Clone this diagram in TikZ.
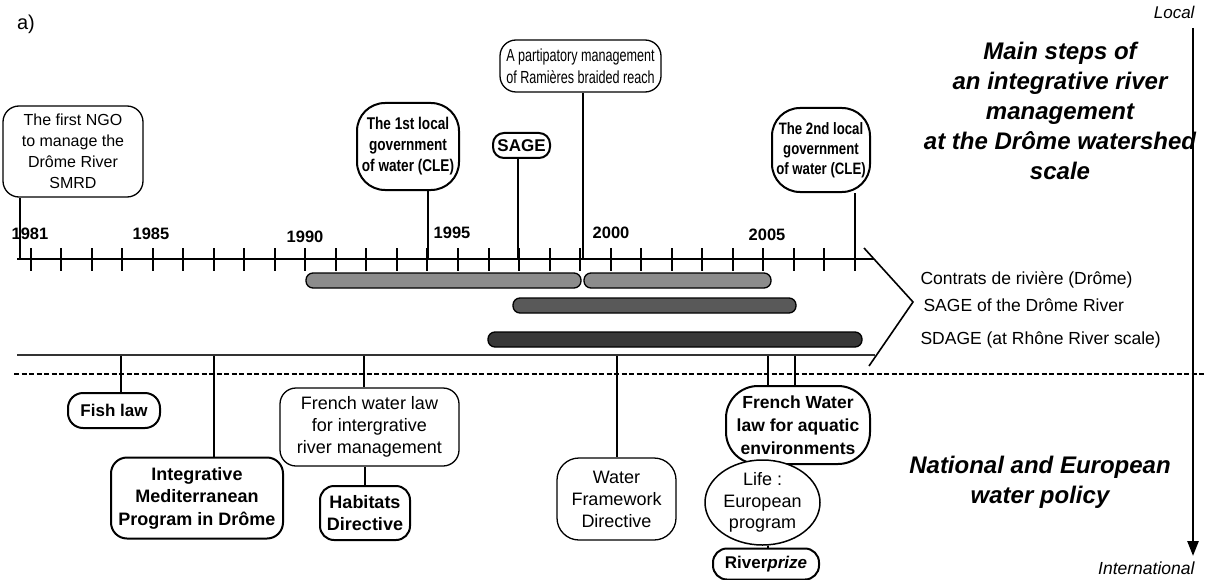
\documentclass[tikz,border=0pt]{standalone}
\usepackage{fontspec}
\setmainfont{Liberation Sans}
\newfontfamily\narf[FakeStretch=0.8]{Liberation Sans}
\newfontfamily\narrf[FakeStretch=0.72]{Liberation Sans}
\usetikzlibrary{arrows.meta,shapes.geometric}
\newcommand{\myfs}[2]{\fontsize{#1}{#2}\selectfont}
\pgfdeclarelayer{bg}
\pgfsetlayers{bg,main}
\begin{document}
\begin{tikzpicture}[x=1pt,y=-1pt,
  bx/.style={draw, fill=white, align=center, inner sep=0pt, rectangle},
  thinbx/.style={bx, line width=1.3},
  thickbx/.style={bx, line width=2},
  stem/.style={line width=2.4},
  tick/.style={line width=2},
  bar/.style={draw, line width=1.3, rounded corners=7},
  yearlab/.style={font=\bfseries\myfs{16.5}{18}},
  sidelab/.style={anchor=west, font=\myfs{17.5}{20}},
  bigtitle/.style={align=center, font=\bfseries\itshape\myfs{24}{30}}]
\useasboundingbox (0,0) rectangle (1206,580);

% --- labels in corners
\node[font=\myfs{20}{22}] (alab) at (26,24) {a)};
\node[anchor=east, font=\itshape\myfs{17}{19}] (local) at (1198,12) {Local};
\node[anchor=east, font=\itshape\myfs{17.5}{19}] (intl) at (1198,568) {International};
\coordinate (arrtop) at (1193,28);
\coordinate (arrbot) at (1193,556);
\draw[line width=2.5, -{Triangle[length=15pt,width=11pt]}] (arrtop) -- (arrbot);

\node[bigtitle] (title) at (1060,111) {Main steps of\\an integrative river\\management\\at the Drôme watershed\\scale};
\node[bigtitle] (natl) at (1040,482) {National and European\\water policy};

% --- dotted separator
\coordinate (dl) at (14,374);
\coordinate (dr) at (1206,374);
\draw[line width=2, dash pattern=on 5pt off 2.5pt] (dl) -- (dr);

% --- time axis
\coordinate (axl) at (17,259);
\coordinate (axr) at (874,259);
\draw[line width=2.5] (axl) -- (axr);
\foreach \i in {0,...,27} {
  \draw[tick] ({30.6+30.53*\i},248) -- ({30.6+30.53*\i},271);
}
\node[yearlab] (y1981) at (30,234) {1981};
\node[yearlab] (y1985) at (151,234) {1985};
\node[yearlab] (y1990) at (305,237) {1990};
\node[yearlab] (y1995) at (452,233) {1995};
\node[yearlab] (y2000) at (611,233) {2000};
\node[yearlab] (y2005) at (767,235) {2005};

% --- bracket and lower line
\coordinate (bk1) at (864,248);
\coordinate (bk2) at (913,302);
\coordinate (bk3) at (869,366);
\draw[line width=1.6] (bk1) -- (bk2) -- (bk3);
\coordinate (ll) at (17,355);
\coordinate (lr) at (875,355);
\draw[line width=1.6, black!80] (ll) -- (lr);

% --- bars
\draw[bar, fill=black!45] (306,273) rectangle (581,288);
\draw[bar, fill=black!45] (584,273) rectangle (771,288);
\draw[bar, fill=black!65] (513,298) rectangle (796,313);
\draw[bar, fill=black!78] (488,332) rectangle (862,347);
\node[sidelab] (lc) at (917,280) {Contrats de rivière (Drôme)};
\node[sidelab] (ls) at (920,305) {SAGE of the Drôme River};
\node[sidelab] (lsd) at (917,340) {SDAGE (at Rhône River scale)};

% --- top boxes
\node[thinbx, rounded corners=16, minimum width=140, minimum height=91, font=\myfs{16}{21}] (ngo) at (73,151.5) {The first NGO\\to manage the\\Drôme River\\SMRD};
\node[thickbx, rounded corners=28, minimum width=102, minimum height=87, font=\narf\bfseries\myfs{17}{21}] (cle1) at (408,146.5) {The 1st local\\government\\of water (CLE)};
\node[thickbx, rounded corners=11, minimum width=57, minimum height=25, font=\bfseries\myfs{17}{19}] (sage) at (521.5,145.5) {SAGE};
\node[thinbx, rounded corners=16, minimum width=161, minimum height=52, font=\narrf\myfs{17.5}{22}] (part) at (580.5,66) {A partipatory management\\of Ramières braided reach};
\node[thickbx, rounded corners=28, minimum width=98, minimum height=84, font=\narf\bfseries\myfs{16.5}{20}] (cle2) at (821,150) {The 2nd local\\government\\of water (CLE)};

% --- bottom boxes
\node[thickbx, rounded corners=15, minimum width=92, minimum height=35, font=\bfseries\myfs{17}{20}] (fish) at (114,410.5) {Fish law};
\node[thickbx, rounded corners=16, minimum width=172, minimum height=81, font=\bfseries\myfs{18}{22.5}] (integ) at (197,498) {Integrative\\Mediterranean\\Program in Drôme};
\node[thinbx, rounded corners=16, minimum width=179, minimum height=78, font=\myfs{18}{22}] (fwl1) at (369.5,427) {French water law\\for intergrative\\river management};
\node[thickbx, rounded corners=14, minimum width=90, minimum height=54, font=\bfseries\myfs{18}{22}] (hab) at (365,513) {Habitats\\Directive};
\node[thinbx, rounded corners=22, minimum width=119, minimum height=82, font=\myfs{18}{22}] (wfd) at (616.5,499) {Water\\Framework\\Directive};
\node[thickbx, rounded corners=32, minimum width=144, minimum height=78, font=\bfseries\myfs{17.5}{23}] (fwl2) at (798,425) {French Water\\law for aquatic\\environments};
\node[draw, fill=white, ellipse, inner sep=0pt, line width=1.5, minimum width=115, minimum height=85, align=center, font=\myfs{18}{21.5}] (life) at (762.5,502.5) {Life :\\European\\program};
\node[thickbx, rounded corners=14, minimum width=106, minimum height=31, font=\bfseries\myfs{17}{20}] (river) at (766,564) {River\textit{prize}};

% --- stems
\coordinate (s20) at (20,259);
\coordinate (s428) at (428,259);
\coordinate (s518) at (518,259);
\coordinate (s583) at (583,259);
\coordinate (s855) at (855,259);
\coordinate (b121) at (121,355);
\coordinate (b214) at (214,355);
\coordinate (b364) at (364,355);
\coordinate (b617) at (617,355);
\coordinate (b768) at (768,355);
\coordinate (b795) at (795,355);
\begin{pgfonlayer}{bg}
\draw[stem] (s20) -- (s20 |- ngo.south);
\draw[stem] (s428) -- (s428 |- cle1.south);
\draw[stem] (s518) -- (s518 |- sage.south);
\draw[stem] (s583) -- (s583 |- part.south);
\draw[stem] (s855) -- (s855 |- cle2.south);
\draw[stem] (b121) -- (b121 |- fish.north);
\draw[stem] (b214) -- (b214 |- integ.north);
\draw[stem] (b364) -- (b364 |- fwl1.north);
\draw[stem] (hab.north) -- (hab.north |- fwl1.south);
\draw[stem] (b617) -- (b617 |- wfd.north);
\draw[stem] (b768) -- (b768 |- fwl2.north);
\draw[stem] (b795) -- (b795 |- fwl2.north);
\draw[stem] (b768 |- life.south) -- (b768 |- river.north);
\end{pgfonlayer}
\end{tikzpicture}
\end{document}
